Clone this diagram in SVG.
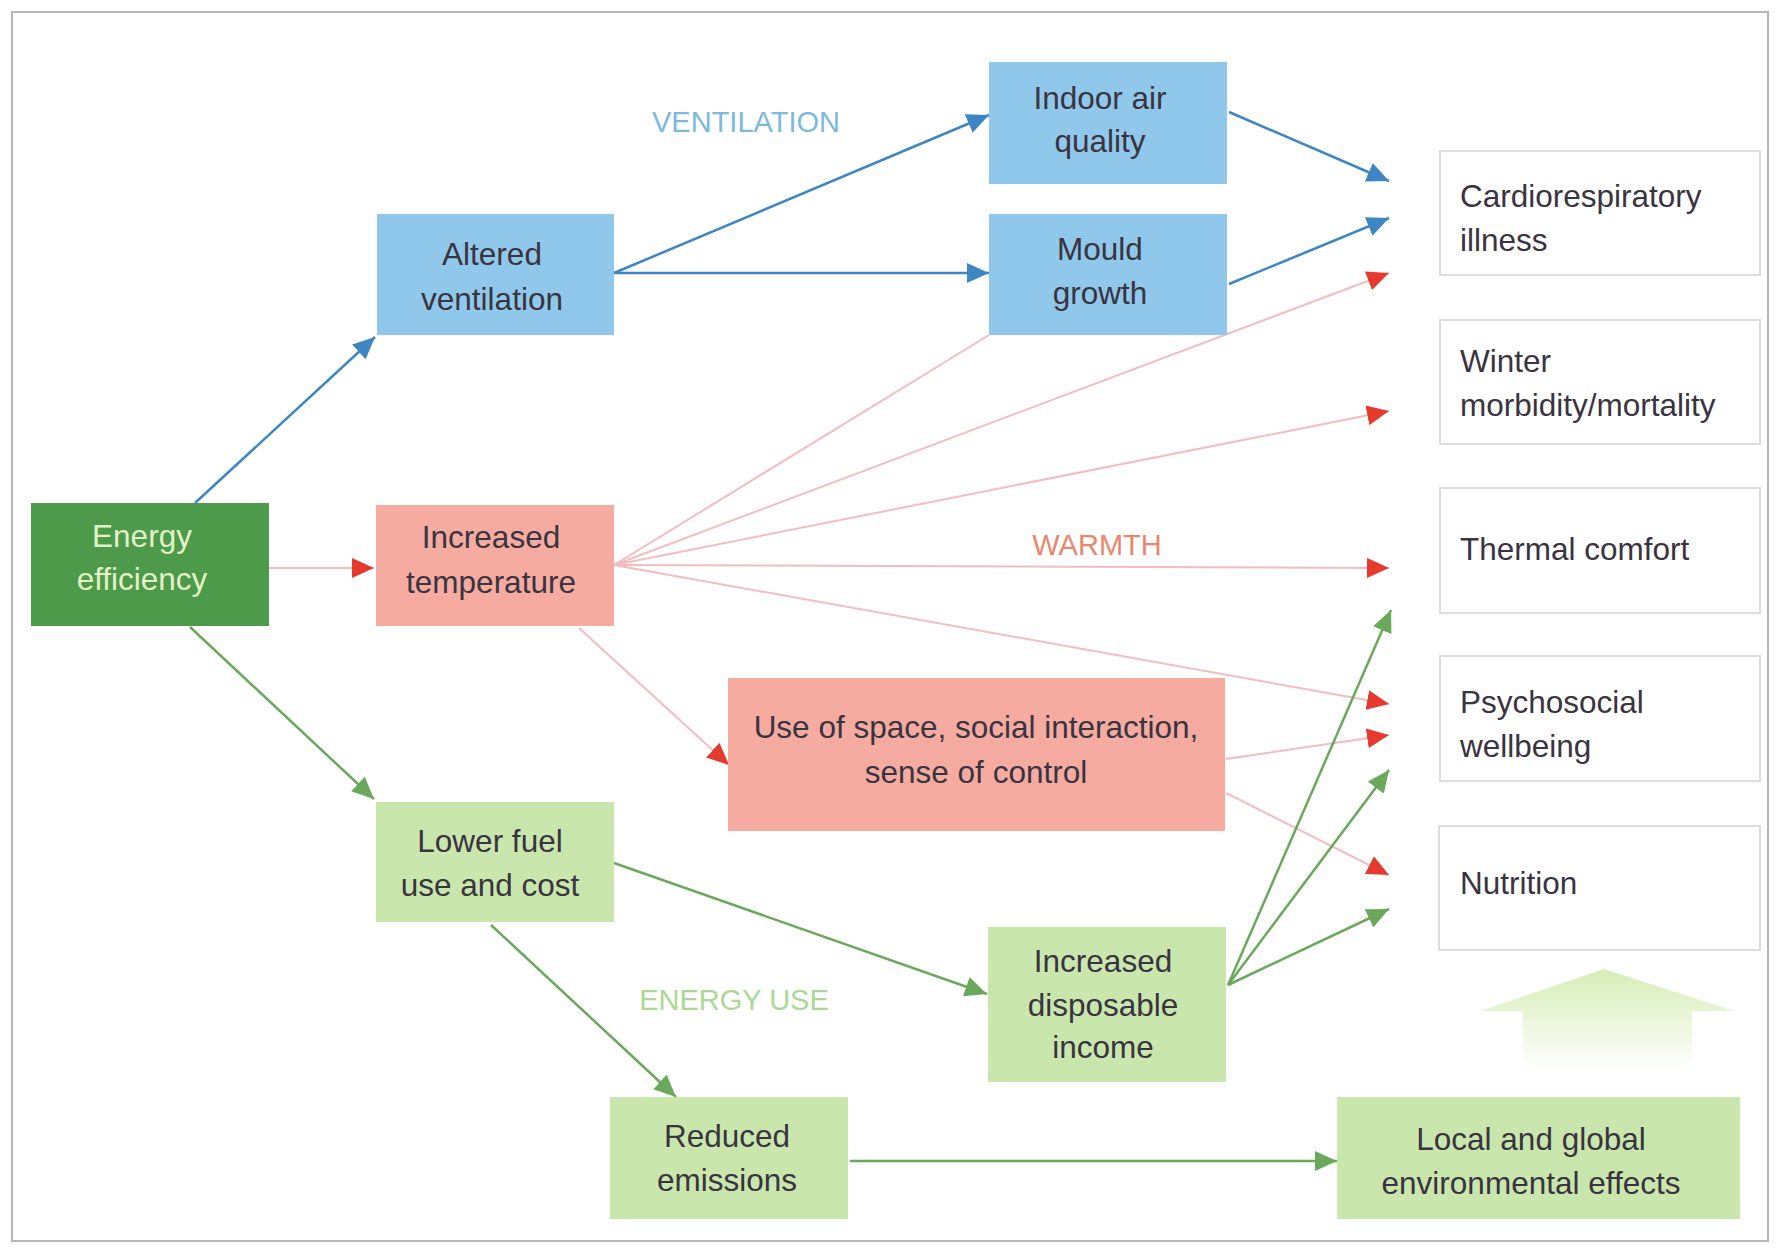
<svg xmlns="http://www.w3.org/2000/svg" width="1781" height="1251" viewBox="0 0 1781 1251">
<style>
text{font-family:"Liberation Sans",Arial,sans-serif;font-size:31.5px;fill:#3a3340;text-anchor:middle}
.lt{text-anchor:start}
.blue{fill:#8fc8ea}
.pink{fill:#f6aba1}
.lg{fill:#c9e7ad}
.out{fill:#fff;stroke:#dcdcdc;stroke-width:2}
.cb{stroke:#3d85c3;stroke-width:2.5;fill:none;marker-end:url(#ab)}
.cr{stroke:#f2bcc0;stroke-width:2;fill:none;marker-end:url(#ar)}
.cg{stroke:#6aa85c;stroke-width:2.5;fill:none;marker-end:url(#ag)}
.lab{font-size:29px}
</style>
<defs>
<marker id="ab" markerUnits="userSpaceOnUse" markerWidth="22" markerHeight="20" refX="22" refY="10" orient="auto"><path d="M0,0 L22,10 L0,20 z" fill="#3d85c3"/></marker>
<marker id="ar" markerUnits="userSpaceOnUse" markerWidth="22" markerHeight="20" refX="22" refY="10" orient="auto"><path d="M0,0 L22,10 L0,20 z" fill="#e63a2e"/></marker>
<marker id="ag" markerUnits="userSpaceOnUse" markerWidth="22" markerHeight="20" refX="22" refY="10" orient="auto"><path d="M0,0 L22,10 L0,20 z" fill="#6aa85c"/></marker>
<linearGradient id="hg" x1="0" y1="0" x2="0" y2="1"><stop offset="0" stop-color="#d6edb6"/><stop offset="1" stop-color="#ffffff"/></linearGradient>
</defs>
<rect x="0" y="0" width="1781" height="1251" fill="#ffffff"/>
<rect x="12" y="12" width="1756" height="1229" fill="#ffffff" stroke="#b5b5b5" stroke-width="2"/>

<g id="connectors">
<line class="cb" x1="195" y1="503" x2="375" y2="337"/>
<line class="cr" x1="269" y1="568" x2="374" y2="568"/>
<line class="cg" x1="190" y1="627" x2="374" y2="799"/>
<line class="cb" x1="614" y1="273" x2="989" y2="115"/>
<line class="cb" x1="614" y1="273" x2="989" y2="273"/>
<line class="cb" x1="1229" y1="112" x2="1389" y2="181"/>
<line class="cb" x1="1229" y1="284" x2="1389" y2="218"/>
<line stroke="#f2bcc0" stroke-width="2" x1="614" y1="565" x2="989" y2="335"/>
<line class="cr" x1="614" y1="565" x2="1389" y2="273"/>
<line class="cr" x1="614" y1="565" x2="1389" y2="411"/>
<line class="cr" x1="614" y1="565" x2="1389" y2="568"/>
<line class="cr" x1="614" y1="565" x2="1389" y2="704"/>
<line class="cr" x1="579" y1="628" x2="729" y2="765"/>
<line class="cr" x1="1226" y1="759" x2="1389" y2="735"/>
<line class="cr" x1="1226" y1="793" x2="1389" y2="875"/>
<line class="cg" x1="614" y1="863" x2="987" y2="994"/>
<line class="cg" x1="491" y1="925" x2="676" y2="1097"/>
<line class="cg" x1="1228" y1="985" x2="1391" y2="610"/>
<line class="cg" x1="1228" y1="985" x2="1389" y2="770"/>
<line class="cg" x1="1228" y1="985" x2="1389" y2="909"/>
<line class="cg" x1="850" y1="1161" x2="1337" y2="1161"/>
</g>

<text class="lab" x="746" y="132" style="fill:#7db9dd">VENTILATION</text>
<text class="lab" x="1097" y="555" style="fill:#e9866c">WARMTH</text>
<text class="lab" x="734" y="1010" style="fill:#acd896">ENERGY USE</text>

<path d="M1604,969 L1734,1011 L1692,1011 L1692,1070 L1523,1070 L1523,1011 L1480,1011 Z" fill="url(#hg)"/>

<g id="energy-efficiency">
<rect x="31" y="503" width="238" height="123" fill="#4c9a4a"/>
<text x="142" y="547" style="fill:#e2f2c6">Energy</text>
<text x="142" y="590" style="fill:#e2f2c6">efficiency</text>
</g>
<g id="altered-ventilation">
<rect class="blue" x="377" y="214" width="237" height="121"/>
<text x="492" y="265">Altered</text>
<text x="492" y="310">ventilation</text>
</g>
<g id="increased-temperature">
<rect class="pink" x="376" y="505" width="238" height="121"/>
<text x="491" y="548">Increased</text>
<text x="491" y="593">temperature</text>
</g>
<g id="lower-fuel">
<rect class="lg" x="376" y="802" width="238" height="120"/>
<text x="490" y="852">Lower fuel</text>
<text x="490" y="896">use and cost</text>
</g>
<g id="indoor-air-quality">
<rect class="blue" x="989" y="62" width="238" height="122"/>
<text x="1100" y="109">Indoor air</text>
<text x="1100" y="152">quality</text>
</g>
<g id="mould-growth">
<rect class="blue" x="989" y="214" width="238" height="121"/>
<text x="1100" y="260">Mould</text>
<text x="1100" y="304">growth</text>
</g>
<g id="use-of-space">
<rect class="pink" x="728" y="678" width="497" height="153"/>
<text x="976" y="738">Use of space, social interaction,</text>
<text x="976" y="783">sense of control</text>
</g>
<g id="disposable-income">
<rect class="lg" x="988" y="927" width="238" height="155"/>
<text x="1103" y="972">Increased</text>
<text x="1103" y="1016">disposable</text>
<text x="1103" y="1058">income</text>
</g>
<g id="reduced-emissions">
<rect class="lg" x="610" y="1097" width="238" height="122"/>
<text x="727" y="1147">Reduced</text>
<text x="727" y="1191">emissions</text>
</g>
<g id="environmental-effects">
<rect class="lg" x="1337" y="1097" width="403" height="122"/>
<text x="1531" y="1150">Local and global</text>
<text x="1531" y="1194">environmental effects</text>
</g>
<g id="cardiorespiratory">
<rect class="out" x="1440" y="151" width="320" height="124"/>
<text class="lt" x="1460" y="207">Cardiorespiratory</text>
<text class="lt" x="1460" y="251">illness</text>
</g>
<g id="winter">
<rect class="out" x="1440" y="320" width="320" height="124"/>
<text class="lt" x="1460" y="372">Winter</text>
<text class="lt" x="1460" y="416">morbidity/mortality</text>
</g>
<g id="thermal-comfort">
<rect class="out" x="1440" y="488" width="320" height="125"/>
<text class="lt" x="1460" y="560">Thermal comfort</text>
</g>
<g id="psychosocial">
<rect class="out" x="1440" y="656" width="320" height="125"/>
<text class="lt" x="1460" y="713">Psychosocial</text>
<text class="lt" x="1460" y="757">wellbeing</text>
</g>
<g id="nutrition">
<rect class="out" x="1439" y="826" width="321" height="124"/>
<text class="lt" x="1460" y="894">Nutrition</text>
</g>
</svg>
